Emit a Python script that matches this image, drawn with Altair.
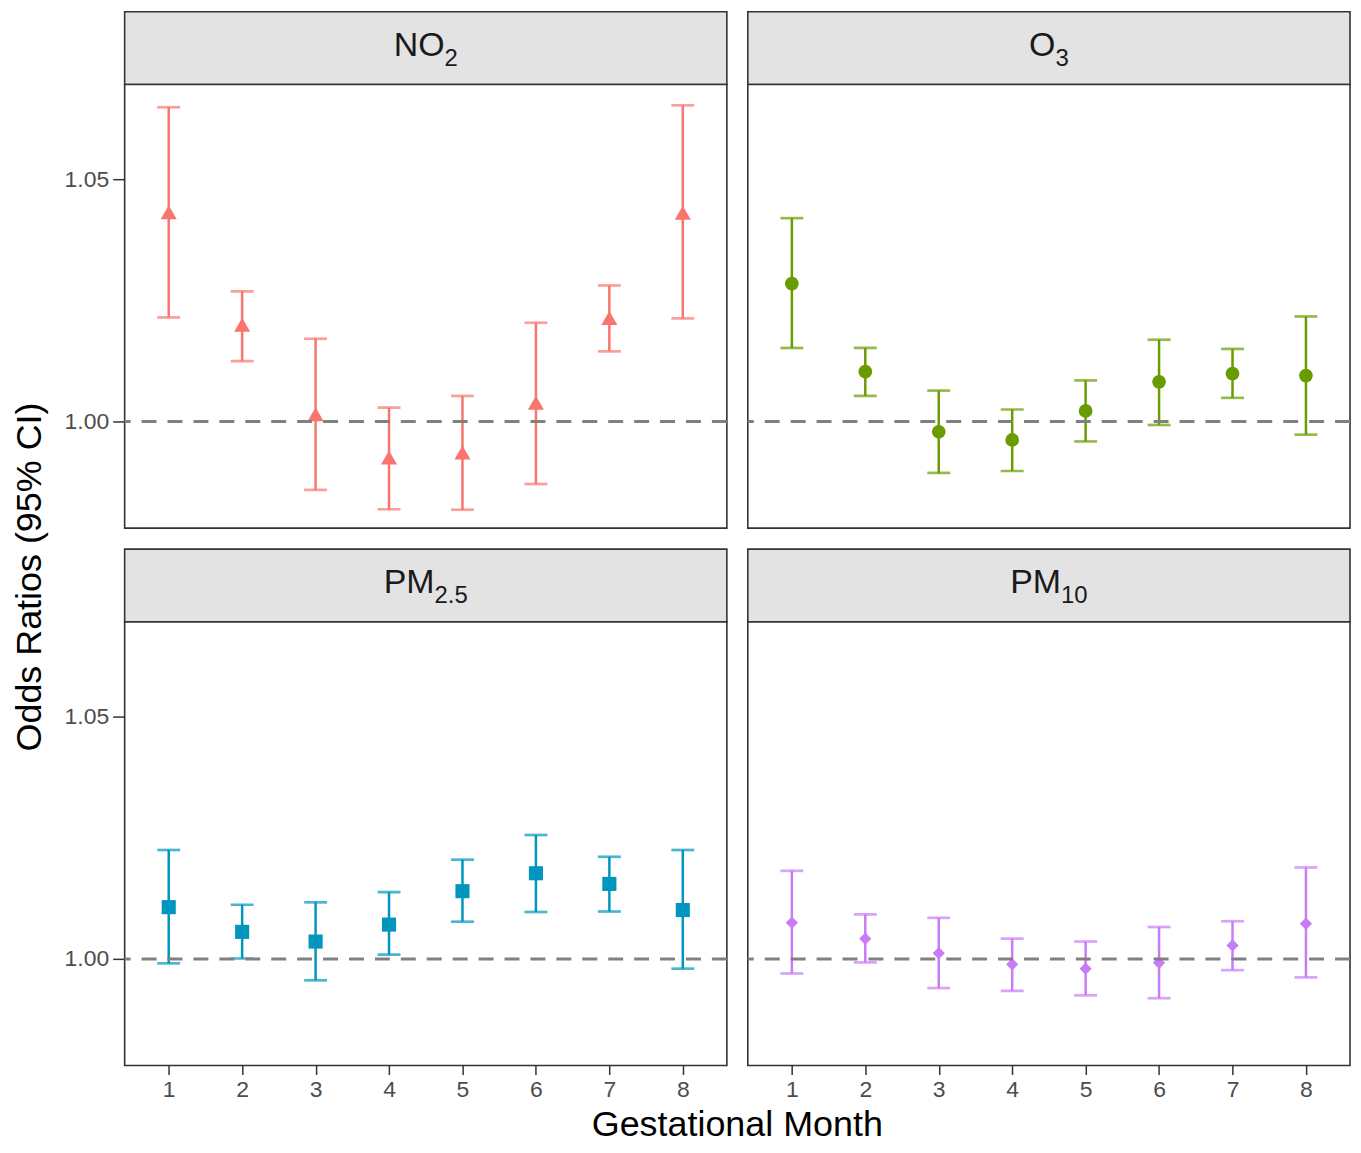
import altair as alt
import pandas as pd

FONT = "Liberation Sans"

months = [1, 2, 3, 4, 5, 6, 7, 8]

no2_or = [1.0432, 1.0200, 1.0015, 0.9926, 0.9936, 1.0039, 1.0214, 1.0431]
no2_lo = [1.0215, 1.0125, 0.9859, 0.9819, 0.9818, 0.9871, 1.0145, 1.0213]
no2_hi = [1.0649, 1.0269, 1.0171, 1.0029, 1.0053, 1.0204, 1.0281, 1.0653]

o3_or = [1.0285, 1.0103, 0.9979, 0.9962, 1.0022, 1.0082, 1.0099, 1.0095]
o3_lo = [1.0152, 1.0053, 0.9894, 0.9898, 0.9959, 0.9993, 1.0049, 0.9973]
o3_hi = [1.0420, 1.0152, 1.0064, 1.0025, 1.0085, 1.0169, 1.0150, 1.0217]

pm25_or = [1.0107, 1.0056, 1.0036, 1.0071, 1.0140, 1.0177, 1.0155, 1.0101]
pm25_lo = [0.9991, 1.0001, 0.9956, 1.0009, 1.0077, 1.0097, 1.0098, 0.9980]
pm25_hi = [1.0225, 1.0112, 1.0117, 1.0138, 1.0205, 1.0256, 1.0211, 1.0225]

pm10_or = [1.0075, 1.0042, 1.0012, 0.9989, 0.9980, 0.9992, 1.0028, 1.0073]
pm10_lo = [0.9970, 0.9993, 0.9940, 0.9934, 0.9925, 0.9919, 0.9977, 0.9962]
pm10_hi = [1.0182, 1.0092, 1.0085, 1.0042, 1.0036, 1.0066, 1.0078, 1.0189]

y_ticks = [1.00, 1.05]
x_domain = [0.4, 8.6]
y_domain = [0.978, 1.0696]

W = 604      # panel width
PH = 445     # panel height
SH = 73      # strip height
GAP = 21     # gap between panels
LW = 96      # left column (y title) width
BH = 64      # bottom row (x title) height

# approximate Arial glyph widths (em) for centring the strip labels
CW = {"N": 0.722, "O": 0.778, "P": 0.667, "M": 0.833, ".": 0.278}

NOVIEW = alt.ViewBackground(stroke="transparent", strokeWidth=0)


def text_w(s, size):
    return sum(CW.get(c, 0.556) for c in s) * size


def blank(w, h):
    return alt.Chart(pd.DataFrame({"t": [""]})).mark_text(opacity=0).encode(
        text="t:N").properties(width=w, height=h, view=NOVIEW)


def panel(or_, lo, hi, color, shape, size, show_x, show_y):
    df = pd.DataFrame({"month": months, "or": or_, "lo": lo, "hi": hi})
    if show_x:
        xax = alt.Axis(values=months, format="d", labelFontSize=23, labelFont=FONT,
                       labelColor="#4d4d4d", tickColor="#333333", tickSize=9,
                       tickWidth=1.5, labelPadding=4, domain=False, grid=False)
    else:
        xax = None
    if show_y:
        yax = alt.Axis(values=y_ticks, format=".2f", labelFontSize=23, labelFont=FONT,
                       labelColor="#4d4d4d", tickColor="#333333", tickSize=12,
                       tickWidth=1.5, labelPadding=4, domain=False, grid=False)
    else:
        yax = None
    x = alt.X("month:Q", scale=alt.Scale(domain=x_domain, nice=False, zero=False),
              axis=xax, title=None)
    ysc = alt.Scale(domain=y_domain, nice=False, zero=False)
    base = alt.Chart(df)
    bars = base.mark_rule(color=color, strokeWidth=2.5).encode(
        x=x, y=alt.Y("lo:Q", scale=ysc, axis=yax, title=None), y2="hi:Q")
    cap_lo = base.mark_tick(color=color, orient="horizontal", size=23, thickness=2.7).encode(
        x=x, y=alt.Y("lo:Q", scale=ysc))
    cap_hi = base.mark_tick(color=color, orient="horizontal", size=23, thickness=2.7).encode(
        x=x, y=alt.Y("hi:Q", scale=ysc))
    pts = base.mark_point(shape=shape, filled=True, size=size, color=color, opacity=1).encode(
        x=x, y=alt.Y("or:Q", scale=ysc))
    ref = alt.Chart(pd.DataFrame({"v": [1.0]})).mark_rule(
        color="#808080", strokeWidth=3, strokeDash=[15, 11]).encode(y=alt.Y("v:Q", scale=ysc))
    return alt.layer(bars, cap_lo, cap_hi, pts, ref).properties(
        width=W, height=PH,
        view=alt.ViewBackground(fill="white", stroke="#333333", strokeWidth=1.6))


def strip(main, sub):
    sm, ss = 34, 24
    wm, ws = text_w(main, sm), text_w(sub, ss)
    split = W / 2 - (wm + ws) / 2 + wm
    t1 = alt.Chart(pd.DataFrame({"t": [main]})).mark_text(
        align="right", baseline="alphabetic", fontSize=sm, font=FONT, color="#1a1a1a"
    ).encode(text="t:N", x=alt.value(split), y=alt.value(44))
    t2 = alt.Chart(pd.DataFrame({"t": [sub]})).mark_text(
        align="left", baseline="alphabetic", fontSize=ss, font=FONT, color="#1a1a1a"
    ).encode(text="t:N", x=alt.value(split), y=alt.value(54))
    return alt.layer(t1, t2).properties(
        width=W, height=SH,
        view=alt.ViewBackground(fill="#e3e3e3", stroke="#333333", strokeWidth=1.6))


ytitle = alt.Chart(pd.DataFrame({"t": ["Odds Ratios (95% CI)"]})).mark_text(
    angle=270, align="center", baseline="middle", fontSize=36, font=FONT, color="black"
).encode(text="t:N", x=alt.value(22), y=alt.value(494)).properties(
    width=LW, height=PH, view=NOVIEW)

xtitle = alt.Chart(pd.DataFrame({"t": ["Gestational Month"]})).mark_text(
    align="center", baseline="alphabetic", fontSize=36, font=FONT, color="black"
).encode(text="t:N", x=alt.value(W + GAP / 2), y=alt.value(BH + 7)).properties(
    width=W, height=BH, view=NOVIEW)

cells = [
    blank(LW, SH), strip("NO", "2"), strip("O", "3"),
    ytitle,
    panel(no2_or, no2_lo, no2_hi, "#F8766D", "triangle-up", 260, False, True),
    panel(o3_or, o3_lo, o3_hi, "#689C00", "circle", 190, False, False),
    blank(LW, GAP), blank(W, GAP), blank(W, GAP),
    blank(LW, SH), strip("PM", "2.5"), strip("PM", "10"),
    blank(LW, PH),
    panel(pm25_or, pm25_lo, pm25_hi, "#0096BE", "square", 200, True, True),
    panel(pm10_or, pm10_lo, pm10_hi, "#C77CF5", "diamond", 150, True, False),
    blank(LW, BH), xtitle, blank(W, BH),
]

chart = alt.concat(
    *cells, columns=3, spacing=alt.RowColnumber(row=0, column=GAP), bounds="flush"
).properties(
    padding={"left": 0, "top": 1, "right": 0, "bottom": 0}
).configure_view(strokeWidth=0).configure(background="white")

chart.save("out.html", embed_options={"renderer": "svg", "actions": False})
